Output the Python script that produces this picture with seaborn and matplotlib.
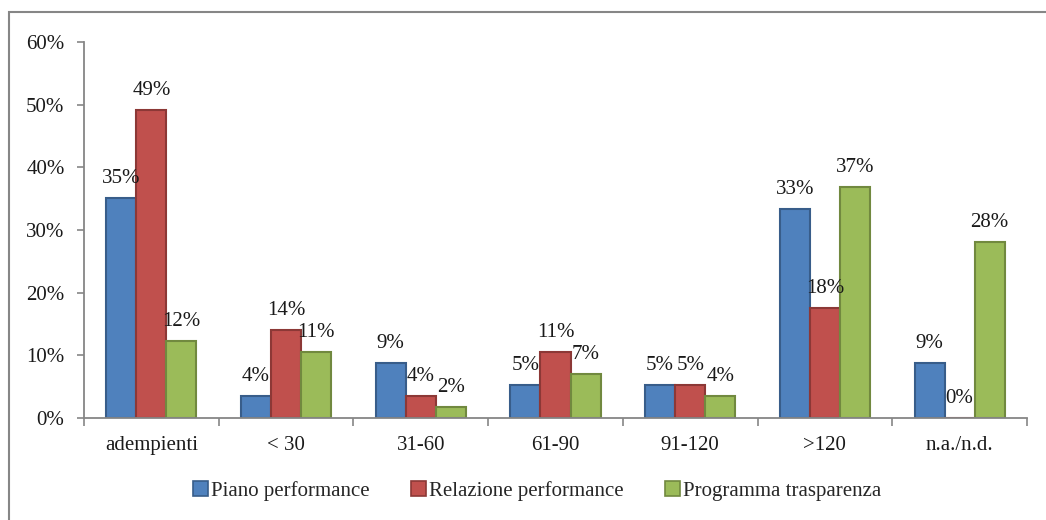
import matplotlib.pyplot as plt
import matplotlib.patches as mpatches
import pandas as pd
import seaborn as sns

categories = ["adempienti", "< 30", "31-60", "61-90", "91-120", ">120", "n.a./n.d."]
series = ["Piano performance", "Relazione performance", "Programma trasparenza"]
piano = [35.09, 3.51, 8.77, 5.26, 5.26, 33.33, 8.77]
relazione = [49.12, 14.04, 3.51, 10.53, 5.26, 17.54, 0.0]
trasparenza = [12.28, 10.53, 1.75, 7.02, 3.51, 36.84, 28.07]
yticks = [0, 10, 20, 30, 40, 50, 60]

colors = ["#4F81BD", "#C0504D", "#9BBB59"]
edges = ["#385D8A", "#8C3836", "#71893F"]

if __name__ == "__main__":
    sns.set_theme(style="white")
    plt.rcParams['font.family'] = ['Liberation Serif', 'DejaVu Serif']
    fs = 15

    rows = []
    for name, vals in zip(series, [piano, relazione, trasparenza]):
        for cat, v in zip(categories, vals):
            rows.append({"categoria": cat, "serie": name, "valore": v})
    df = pd.DataFrame(rows)

    fig = plt.figure(figsize=(10.46, 5.2), dpi=100)
    ax = fig.add_axes([84 / 1046, 1 - 418 / 520, (1027 - 84) / 1046, (418 - 42) / 520])

    g = sns.barplot(data=df, x="categoria", y="valore", hue="serie", order=categories,
                    hue_order=series, palette=colors, width=0.67, gap=0,
                    saturation=1, legend=False, ax=ax)

    for cont, ec in zip(ax.containers, edges):
        for bar in cont:
            bar.set_edgecolor(ec)
            bar.set_linewidth(1.5)
        ax.bar_label(cont, fmt="{:.0f}%", padding=7, fontsize=fs, color="#1a1a1a")

    ax.set_ylim(0, 60)
    ax.set_xlim(-0.5, len(categories) - 0.5)
    ax.set_yticks(yticks)
    ax.set_yticklabels([f"{t}%" for t in yticks], fontsize=fs, color="#1a1a1a")
    ax.set_xticks(range(len(categories)))
    ax.set_xticklabels(categories, fontsize=fs, color="#1a1a1a")
    ax.tick_params(axis="x", length=0, pad=13)
    ax.tick_params(axis="y", left=True, length=5, width=1.2, color="#868686", pad=9)
    ax.set_xticks([i - 0.5 for i in range(len(categories) + 1)], minor=True)
    ax.tick_params(axis="x", which="minor", bottom=True, length=6, width=1.2, color="#868686")
    ax.set(xlabel=None, ylabel=None)
    sns.despine(ax=ax)
    for s in ["left", "bottom"]:
        ax.spines[s].set_color("#868686")
        ax.spines[s].set_linewidth(1.3)

    handles = [mpatches.Patch(facecolor=c, edgecolor=e, linewidth=1.2, label=n)
               for c, e, n in zip(colors, edges, series)]
    fig.legend(handles=handles, loc="center", bbox_to_anchor=(537 / 1046, 1 - 491 / 520),
               ncol=3, frameon=False, fontsize=fs, handlelength=0.7, handleheight=0.7,
               handletextpad=0.15, columnspacing=2.0)

    frame = mpatches.Rectangle((9 / 1046, -0.1), 1.2, 1 - 12 / 520 + 0.1,
                               transform=fig.transFigure, fill=False,
                               edgecolor="#868686", linewidth=1.5)
    fig.patches.append(frame)

    plt.savefig("out.png", dpi=100)
